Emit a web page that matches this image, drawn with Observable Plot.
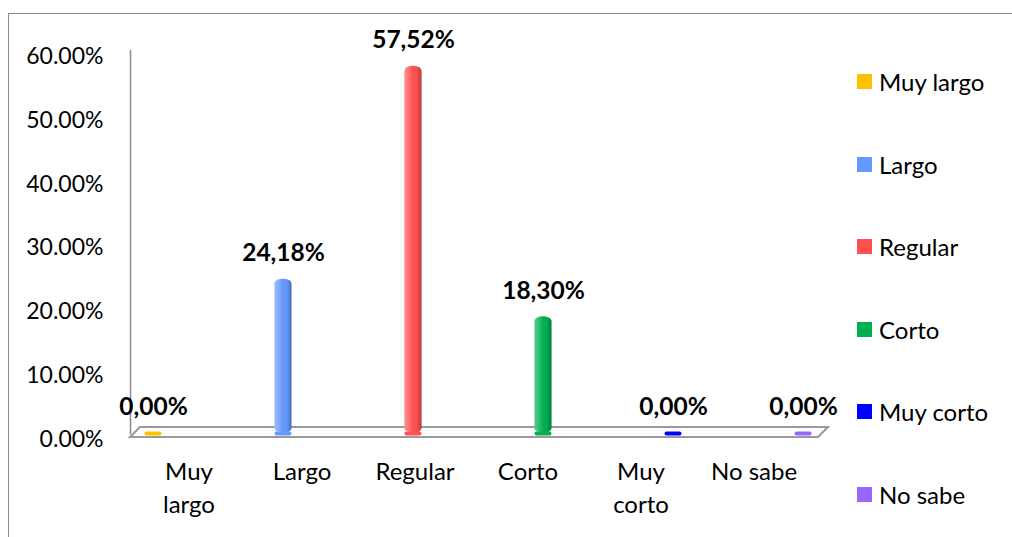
<!DOCTYPE html>
<html><head><meta charset="utf-8">
<script src="https://cdn.jsdelivr.net/npm/d3@7"></script>
<script src="https://cdn.jsdelivr.net/npm/@observablehq/plot@0.6"></script>
<style>
body{margin:0;background:#fff;}
#wrap{position:relative;width:1012px;height:537px;overflow:hidden;font-family:Lato, sans-serif;background:#fff;}
#wrap svg{position:absolute;left:0;top:0;}
#border{position:absolute;left:8px;top:13px;width:1100px;height:600px;border-left:1.5px solid #8c8c8c;border-top:1.5px solid #8c8c8c;}
.leg{position:absolute;left:857px;height:24px;display:flex;align-items:center;font-size:24px;color:#000;white-space:nowrap;}
.sw{width:15px;height:15px;margin-right:7px;flex:none;}
</style></head><body>
<div id="wrap"><div id="border"></div></div>
<script>
const categories = ["Muy largo","Largo","Regular","Corto","Muy corto","No sabe"];
const axisLabels = ["Muy\nlargo","Largo","Regular","Corto","Muy\ncorto","No sabe"];
const values = [0.0, 0.2418, 0.5752, 0.1830, 0.0, 0.0];
const valueLabels = ["0,00%","24,18%","57,52%","18,30%","0,00%","0,00%"];
const colors = ["#FFC000","#6699FF","#FF5050","#00B050","#0000FF","#9966FF"];
const yTicks = [0, 0.1, 0.2, 0.3, 0.4, 0.5, 0.6];

const data = categories.map((c, i) => ({cat: c, value: values[i], label: valueLabels[i], axis: axisLabels[i]}));

const W = 1012, H = 537;
const wrap = document.getElementById("wrap");

const main = Plot.plot({
  width: W, height: H,
  marginLeft: 130, marginRight: 184, marginTop: 50, marginBottom: 104,
  style: {fontFamily: "Lato, sans-serif", fontSize: "23px", color: "#000", background: "transparent"},
  x: {type: "band", domain: categories, range: [85, 870], padding: 0, axis: null},
  y: {domain: [0, 0.6], axis: null},
  color: {domain: categories, range: colors},
  marks: [
    Plot.frame({anchor: "left", stroke: "#8c8c8c", strokeWidth: 1.5}),
    Plot.axisY({ticks: yTicks, tickFormat: d3.format(".2%"), tickSize: 0, tickPadding: 27, dy: 6, fontSize: 23, label: null}),
    Plot.tickY(data, {x: "cat", y: 0, stroke: "cat", strokeWidth: 4, strokeLinecap: "round", insetLeft: 58.5, insetRight: 58.5}),
    Plot.barY(data, {x: "cat", y: "value", fill: "cat", rx: 9, ry: 5, insetLeft: 56.5, insetRight: 56.5}),
    Plot.barY(data, {x: "cat", y: "value", fill: "url(#shade)", rx: 9, ry: 5, insetLeft: 56.5, insetRight: 56.5}),
    Plot.text(data, {x: "cat", y: "value", text: "label", dy: -26, fontWeight: "bold", fontSize: 24.5})
  ]
});

// decorative floor + gradient
const svg = d3.select(main);
const y0 = main.scale("y").apply(0);
const defs = svg.insert("defs", ":first-child");
const g = defs.append("linearGradient").attr("id", "shade").attr("x1", 0).attr("x2", 1).attr("y1", 0).attr("y2", 0);
[[0, "#fff", 0.35], [0.35, "#fff", 0.12], [0.7, "#000", 0], [1, "#000", 0.28]].forEach(([o, c, a]) =>
  g.append("stop").attr("offset", o).attr("stop-color", c).attr("stop-opacity", a));
const fl = 130, fr = 818, depth = 10;
svg.insert("path", "defs + *")
  .attr("d", `M${fl},${y0 + 4}L${fr},${y0 + 4}L${fr + depth},${y0 - 6}L${fl + depth},${y0 - 6}Z`)
  .attr("fill", "#fff").attr("stroke", "#9a9a9a").attr("stroke-width", 2);

const labelsPlot = Plot.plot({
  width: W, height: H,
  marginTop: 456, marginBottom: 0, marginLeft: 0, marginRight: 0,
  style: {fontFamily: "Lato, sans-serif", fontSize: "24px", color: "#000", background: "transparent"},
  x: {type: "band", domain: categories, range: [130, 812], padding: 0, axis: null},
  marks: [
    Plot.text(data, {x: "cat", frameAnchor: "top", lineAnchor: "top", text: "axis", lineHeight: 1.38, fontSize: 24})
  ]
});

wrap.appendChild(main);
wrap.appendChild(labelsPlot);

const legendY = [81.5, 164, 246.5, 329, 411.5, 494];
categories.forEach((c, i) => {
  const d = document.createElement("div");
  d.className = "leg";
  d.style.top = (legendY[i] - 12) + "px";
  d.innerHTML = `<span class="sw" style="background:${colors[i]}"></span><span>${c}</span>`;
  wrap.appendChild(d);
});
</script>
</body></html>
